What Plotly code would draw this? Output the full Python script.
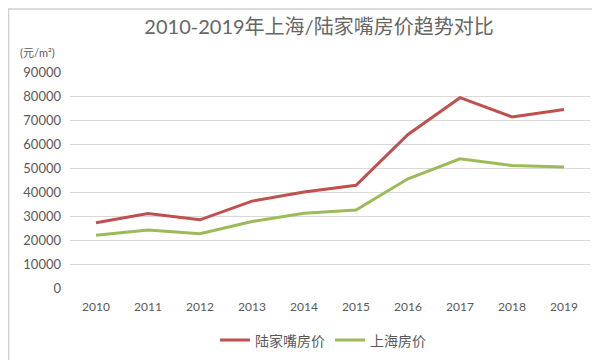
import plotly.graph_objects as go

years = ["2010", "2011", "2012", "2013", "2014", "2015", "2016", "2017", "2018", "2019"]
lujiazui = [27200, 31000, 28400, 36200, 40000, 42800, 64000, 79300, 71300, 74400]
shanghai = [22000, 24200, 22600, 27700, 31100, 32500, 45500, 53800, 51000, 50400]
yticks = [0, 10000, 20000, 30000, 40000, 50000, 60000, 70000, 80000, 90000]
yticklabels = [str(v) for v in yticks]

L, R, T, B = 62, 18, 64, 78
W, H = 600, 360
pw, ph = W - L - R, H - T - B

def px(x):
    return (x - L) / pw

def py(y):
    return (H - B - y) / ph

fig = go.Figure()
fig.add_trace(go.Scatter(x=years, y=lujiazui, mode="lines", name="陆家嘴房价",
                         line=dict(color="#C0504D", width=3)))
fig.add_trace(go.Scatter(x=years, y=shanghai, mode="lines", name="上海房价",
                         line=dict(color="#9BBB59", width=3)))

font_family = "Lato, Noto Sans CJK SC, sans-serif"

fig.update_layout(
    width=W, height=H,
    margin=dict(l=L, r=R, t=T, b=B),
    paper_bgcolor="white", plot_bgcolor="white",
    font=dict(family=font_family, color="#595959"),
    showlegend=True,
    legend=dict(orientation="h", x=px(315), xanchor="center", y=py(335), yanchor="middle",
                font=dict(size=14, color="#595959"), bgcolor="rgba(0,0,0,0)"),
    title=dict(text="2010-2019年上海/陆家嘴房价趋势对比", x=311 / W, xanchor="center",
               y=1 - 19 / H, yanchor="middle", font=dict(size=20, color="#666666")),
    xaxis=dict(type="category", range=[-0.5, 9.5], showgrid=False, zeroline=False, showline=False,
               tickfont=dict(size=12, color="#595959"), ticklabelstandoff=10),
    yaxis=dict(range=[0, 90000], tickvals=yticks, ticktext=yticklabels, showgrid=True,
               gridcolor="#D9D9D9", gridwidth=1, zeroline=False, showline=False,
               tickfont=dict(size=13, color="#595959"), ticklabelstandoff=8),
)

fig.add_annotation(text="(元/m²)", xref="paper", yref="paper", x=px(10), y=py(44),
                   xanchor="left", yanchor="middle", showarrow=False,
                   font=dict(size=11, color="#595959"))

fig.add_shape(type="rect", xref="paper", yref="paper",
              x0=px(0.5), x1=px(598), y0=py(0.5), y1=py(358),
              line=dict(color="#D0D0D0", width=1.5), layer="below")

fig.write_html("out.html")
